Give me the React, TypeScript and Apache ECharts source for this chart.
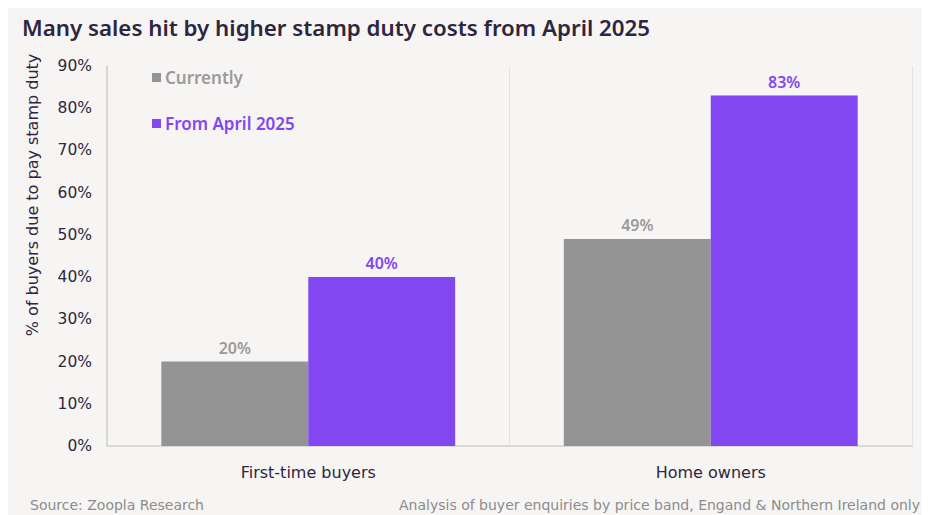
import React, { useEffect, useRef } from "react";
import * as echarts from "echarts";

const categories = ["First-time buyers", "Home owners"];
const currently = [20, 49];
const fromApril2025 = [40, 83];
const seriesNames = ["Currently", "From April 2025"];
const yTicks = { min: 0, max: 90, interval: 10 };
const title = "Many sales hit by higher stamp duty costs from April 2025";
const yName = "% of buyers due to pay stamp duty";
const sourceText = "Source: Zoopla Research";
const noteText = "Analysis of buyer enquiries by price band, Engand & Northern Ireland only";

const GREY = "#949494";
const PURPLE = "#8247f1";
const DARK = "#2d2640";
const FONT = "'Noto Sans', Lato, sans-serif";
const BODY = "'DejaVu Sans', 'Noto Sans', sans-serif";

export default function App() {
  const ref = useRef<HTMLDivElement>(null);
  useEffect(() => {
    if (!ref.current) return;
    const chart = echarts.init(ref.current, undefined, { renderer: "svg" });
    chart.setOption({
      animation: false,
      backgroundColor: "#f6f5f3",
      textStyle: { fontFamily: BODY },
      title: {
        text: title,
        left: 9,
        top: 3,
        textStyle: { fontFamily: FONT, fontSize: 22.3, fontWeight: 600, color: DARK },
      },
      legend: {
        orient: "vertical",
        left: 139,
        top: 56,
        itemWidth: 9,
        itemHeight: 9,
        itemGap: 29,
        icon: "rect",
        data: [
          { name: seriesNames[0], textStyle: { color: "#9a9a9a" } },
          { name: seriesNames[1], textStyle: { color: PURPLE } },
        ],
        textStyle: { fontSize: 17, fontWeight: 600, fontFamily: FONT, padding: [0, 0, 0, -1] },
      },
      grid: { left: 99, right: 18, top: 58, bottom: 69, containLabel: false },
      xAxis: {
        type: "category",
        data: categories,
        axisLine: { show: true, lineStyle: { color: "#cfcfcf", width: 1.5 } },
        axisTick: { show: false },
        splitLine: { show: true, lineStyle: { color: "#e4e3e1", width: 1 } },
        axisLabel: { color: DARK, fontSize: 16, margin: 18, fontFamily: BODY },
      },
      yAxis: {
        type: "value",
        min: yTicks.min,
        max: yTicks.max,
        interval: yTicks.interval,
        axisLine: { show: true, lineStyle: { color: "#cfcfcf", width: 1.5 } },
        axisTick: { show: false },
        splitLine: { show: false },
        axisLabel: { color: DARK, fontSize: 15.5, margin: 15, formatter: "{value}%", fontFamily: BODY },
      },
      series: [
        {
          name: seriesNames[0],
          type: "bar",
          data: currently,
          barGap: "0%",
          barCategoryGap: "27%",
          itemStyle: { color: GREY },
          label: {
            show: true,
            position: "top",
            distance: 6,
            formatter: "{c}%",
            color: "#9a9a9a",
            fontSize: 16,
            fontWeight: 600,
            fontFamily: FONT,
          },
        },
        {
          name: seriesNames[1],
          type: "bar",
          data: fromApril2025,
          itemStyle: { color: PURPLE },
          label: {
            show: true,
            position: "top",
            distance: 6,
            formatter: "{c}%",
            color: PURPLE,
            fontSize: 16,
            fontWeight: 600,
            fontFamily: FONT,
          },
        },
      ],
      graphic: [
        {
          type: "text",
          x: 24,
          y: 187,
          rotation: Math.PI / 2,
          style: {
            text: yName,
            fill: DARK,
            font: `16px ${BODY}`,
            align: "center",
            verticalAlign: "middle",
          },
        },
        {
          type: "text",
          left: 22,
          top: 490,
          style: { text: sourceText, fill: "#8c8c8c", font: `14px ${BODY}` },
        },
        {
          type: "text",
          right: 10,
          top: 490,
          style: { text: noteText, fill: "#8c8c8c", font: `14px ${BODY}` },
        },
      ],
    });
    return () => chart.dispose();
  }, []);
  return <div ref={ref} style={{ width: 922, height: 507 }} />;
}
